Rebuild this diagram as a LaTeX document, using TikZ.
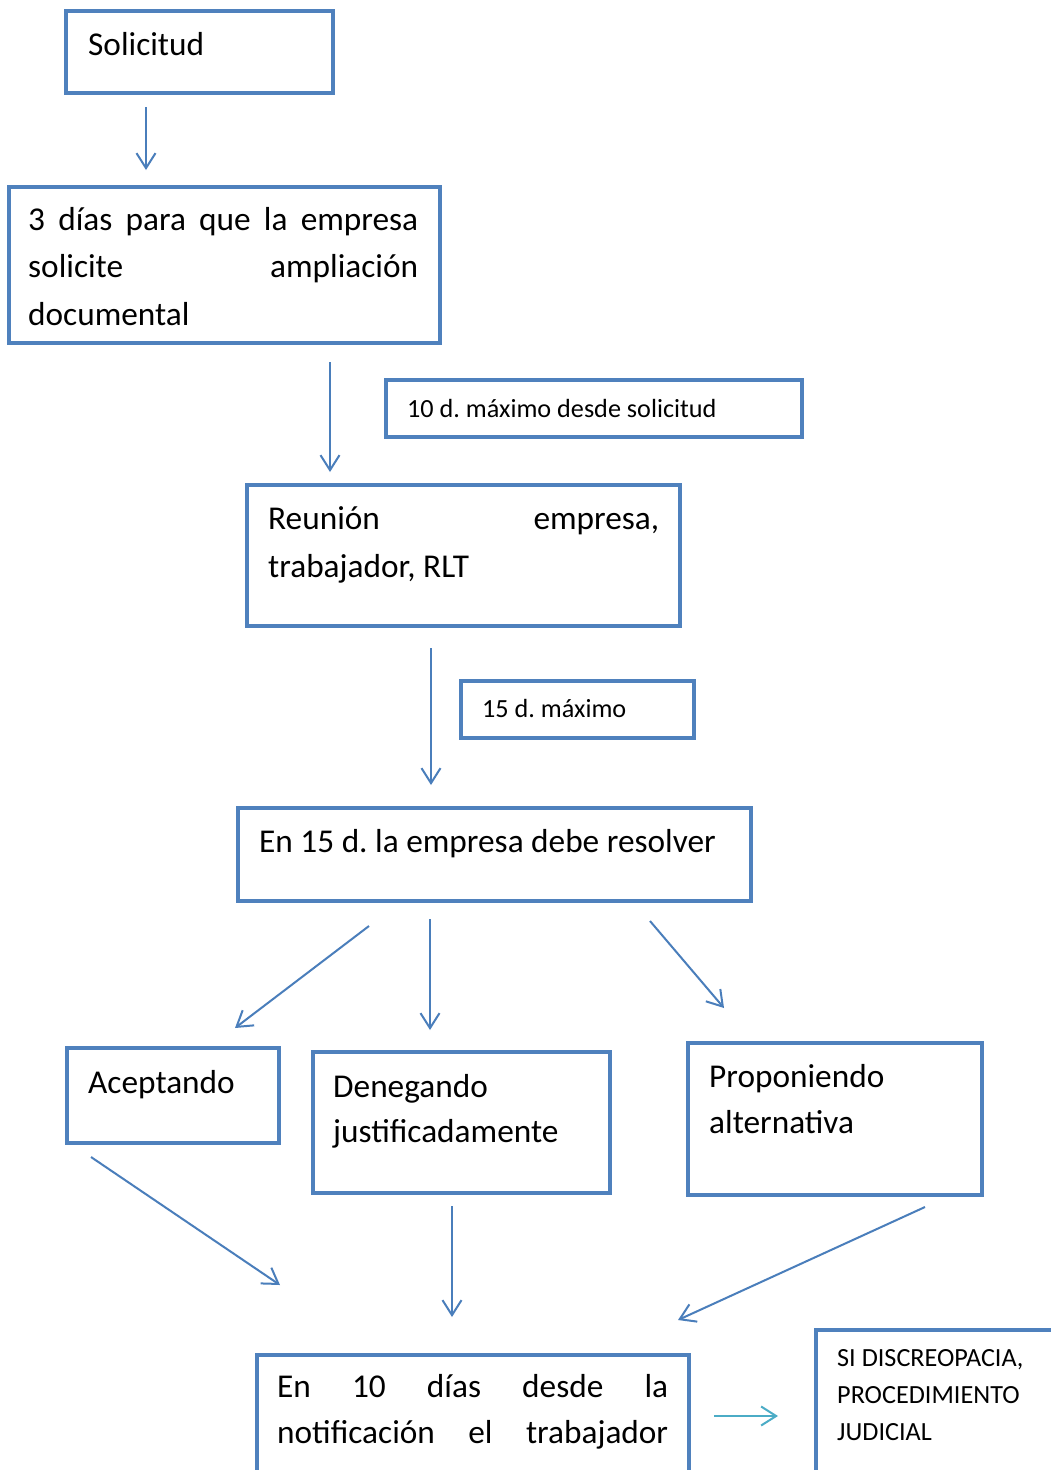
\documentclass[tikz,border=0pt]{standalone}
\usepackage{fontspec}
\setmainfont{Carlito}
\usetikzlibrary{arrows.meta}
\definecolor{boxblue}{HTML}{4F81BD}
\definecolor{arrblue}{HTML}{4A7EBB}
\definecolor{arrcyan}{HTML}{4BACC6}
\frenchspacing
\begin{document}
\begin{tikzpicture}[x=1pt,y=-1pt,
 box/.style={draw=boxblue, line width=4pt, inner sep=0pt, outer sep=0pt},
 big/.style={anchor=base west, inner sep=0pt, font=\fontsize{33.3}{47}\selectfont},
 small/.style={anchor=base west, inner sep=0pt, font=\fontsize{26.2}{37}\selectfont},
 tipstyle/.style={-{Straight Barb[length=15pt,width=19pt,line width=2pt]}},
 conn/.style={draw=arrblue, line width=2pt, tipstyle},
 conncyan/.style={draw=arrcyan, line width=2pt, tipstyle},
]
\useasboundingbox (0,0) rectangle (1051,1470);
\clip (0,0) rectangle (1051,1470);
\fill[white] (0,0) rectangle (1051,1470);

% boxes
\node[box, minimum width=267pt, minimum height=82pt] (solicitud) at (199.5,52) {};
\node[box, minimum width=431pt, minimum height=156pt] (dias) at (224.5,265) {};
\node[box, minimum width=416pt, minimum height=57pt] (diez) at (594,408.5) {};
\node[box, minimum width=433pt, minimum height=141pt] (reunion) at (463.5,555.5) {};
\node[box, minimum width=233pt, minimum height=57pt] (quince) at (577.5,709.5) {};
\node[box, minimum width=513pt, minimum height=93pt] (resolver) at (494.5,854.5) {};
\node[box, minimum width=212pt, minimum height=95pt] (acept) at (173,1095.5) {};
\node[box, minimum width=297pt, minimum height=141pt] (deneg) at (461.5,1122.5) {};
\node[box, minimum width=294pt, minimum height=152pt] (propon) at (835,1119) {};
\node[box, minimum width=432pt, minimum height=165pt] (notif) at (473,1437.5) {};
\node[box, minimum width=284pt, minimum height=190pt] (judicial) at (958,1425) {};

% texts
\node[big] (tsol) at (88,55) {Solicitud};
\node[big] (tdias1) at (28,230) {\makebox[390pt][s]{3 días para que la empresa}};
\node[big] (tdias2) at (28,277) {\makebox[390pt][s]{solicite\hfill ampliación}};
\node[big] (tdias3) at (28,325) {documental};
\node[small] (tdiez) at (407,417) {10 d. máximo desde solicitud};
\node[big] (treu1) at (268,529) {\makebox[391pt][s]{Reunión\hfill empresa,}};
\node[big] (treu2) at (268,577) {trabajador, RLT};
\node[small] (tquince) at (482,717) {15 d. máximo};
\node[big] (tres) at (259,852) {En 15 d. la empresa debe resolver};
\node[big] (tacept) at (88,1093) {Aceptando};
\node[big] (tden1) at (333,1097) {Denegando};
\node[big] (tden2) at (333,1142) {justificadamente};
\node[big] (tpro1) at (709,1087) {Proponiendo};
\node[big] (tpro2) at (709,1133) {alternativa};
\node[big] (tnot1) at (277,1397) {\makebox[391pt][s]{En 10 días desde la}};
\node[big] (tnot2) at (277,1443) {\makebox[391pt][s]{notificación el trabajador}};
\node[small] (tjud1) at (837,1366) {SI DISCREOPACIA,};
\node[small] (tjud2) at (837,1403) {PROCEDIMIENTO};
\node[small] (tjud3) at (837,1440) {JUDICIAL};

% connector ends
\coordinate (a1s) at (146,107);  \coordinate (a1e) at (146,170);
\coordinate (a2s) at (330,362);  \coordinate (a2e) at (330,472);
\coordinate (a3s) at (431,648);  \coordinate (a3e) at (431,785);
\coordinate (a4s) at (369,926);  \coordinate (a4e) at (235,1028);
\coordinate (a5s) at (430,919);  \coordinate (a5e) at (430,1030);
\coordinate (a6s) at (650,921);  \coordinate (a6e) at (724,1008);
\coordinate (a7s) at (91,1157);  \coordinate (a7e) at (280,1285);
\coordinate (a8s) at (452,1206); \coordinate (a8e) at (452,1317);
\coordinate (a9s) at (925,1207); \coordinate (a9e) at (678,1320);
\coordinate (a10s) at (714,1416); \coordinate (a10e) at (778,1416);

\draw[conn] (a1s) -- (a1e);
\draw[conn] (a2s) -- (a2e);
\draw[conn] (a3s) -- (a3e);
\draw[conn] (a4s) -- (a4e);
\draw[conn] (a5s) -- (a5e);
\draw[conn] (a6s) -- (a6e);
\draw[conn] (a7s) -- (a7e);
\draw[conn] (a8s) -- (a8e);
\draw[conn] (a9s) -- (a9e);
\draw[conncyan] (a10s) -- (a10e);
\end{tikzpicture}
\end{document}
